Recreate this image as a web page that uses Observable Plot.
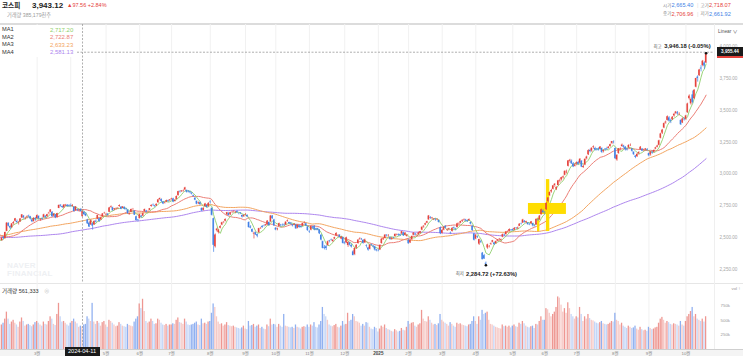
<!DOCTYPE html>
<html><head><meta charset="utf-8">
<script src="https://cdn.jsdelivr.net/npm/d3@7"></script>
<script src="https://cdn.jsdelivr.net/npm/@observablehq/plot@0.6"></script>
<style>
html,body{margin:0;padding:0;background:#fff}
#root{position:relative;width:743px;height:356px;overflow:hidden;font-family:"Liberation Sans","Noto Sans CJK KR",Arial,sans-serif;color:#333}
.abs{position:absolute;white-space:nowrap;line-height:1}
svg{position:absolute;left:0}
</style></head><body><div id="root"></div>
<script>
// ---------- header texts ----------
const titleName = "코스피", titlePrice = "3,943.12", titleChange = "▲97.56 +2.84%", titleVolume = "거래량 385,179천주";
const ohlcLabels = [["시가","2,665.40","dn"],["고가","2,718.07","up"],["종가","2,706.96","up"],["저가","2,661.92","dn"]];
const maNames = ["MA1","MA2","MA3","MA4"];
const maValues = ["2,717.20","2,722.87","2,633.23","2,581.13"];
const maPeriods = [5,20,60,120];
const maColors = ["#8fcf6c","#ec7e76","#f3a560","#ad85ee"];
const volumeTitle = "거래량 561,333";
const hiLabel = "3,946.18 (-0.05%)", loLabel = "2,284.72 (+72.63%)";
const crossDate = "2024-04-11", crossPrice = 3954.5, crossPriceLabel = "3,955.44", lastPrice = 3943.12;
const priceTicks = [2250,2500,2750,3000,3250,3500,3750,4000];
const volumeTicks = [250,500,750];
const holidays = ["2024-02-09","2024-02-12","2024-03-01","2024-04-10","2024-05-01","2024-05-06","2024-05-15","2024-06-06","2024-08-15","2024-09-16","2024-09-17","2024-09-18","2024-10-01","2024-10-03","2024-10-09","2024-12-25","2024-12-31","2025-01-01","2025-01-27","2025-01-28","2025-01-29","2025-01-30","2025-03-03","2025-05-01","2025-05-05","2025-05-06","2025-06-03","2025-06-06","2025-08-15","2025-10-03","2025-10-06","2025-10-07","2025-10-08","2025-10-09"];
// yellow highlight (index ranges, price ranges)
const highlightX1 = [324, 313.3, 318.7], highlightX2 = [326, 335.9, 320.1];
const highlightY1 = [2549, 2683, 2549], highlightY2 = [2956, 2769, 2654];

// ---------- closes before the visible range (for moving averages) ----------
const pre2023_08 = [2605,2602,2580,2573,2605,2601,2591,2570,2525,2519,2504,2508,2515,2505,2537,2519,2543,2552,2561,2556];
const pre2023_09 = [2563,2584,2582,2563,2548,2547,2537,2536,2534,2536,2572,2601,2574,2559,2559,2508,2495,2462,2465];
const pre2023_10 = [2405,2403,2408,2450,2479,2480,2456,2455,2460,2415,2375,2357,2383,2363,2299,2302,2310,2310,2277];
const pre2023_11 = [2301,2344,2368,2502,2443,2421,2427,2409,2403,2433,2486,2488,2469,2491,2510,2515,2496,2511,2521,2520,2521,2535];
const pre2023_12 = [2505,2515,2494,2492,2517,2525,2535,2510,2544,2563,2566,2568,2600,2614,2599,2602,2603,2613,2655];
const pre2024_01 = [2669,2607,2587,2578,2567,2561,2541,2567,2540,2525,2497,2435,2440,2472,2464,2478,2469,2470,2478,2500];

// ---------- visible days: "open high low close volume(k)" ----------
const d2024_01 = ["2478 2505 2472 2498 420","2503 2512 2485 2497 450"];
const d2024_02 = ["2495 2545 2490 2542 520","2550 2620 2548 2615 640","2612 2618 2585 2591 520","2588 2595 2565 2576 430","2580 2612 2575 2609 470","2612 2628 2600 2620 500","2630 2652 2625 2649 450","2628 2640 2612 2620 420","2615 2628 2600 2617 380","2625 2650 2622 2648 470","2655 2682 2650 2680 540","2670 2675 2645 2657 480","2650 2660 2640 2653 400","2660 2672 2648 2664 420","2670 2678 2655 2667 430","2665 2668 2640 2647 410","2640 2645 2618 2625 390","2628 2658 2622 2653 420","2650 2660 2630 2642 460"];
const d2024_03 = ["2650 2680 2645 2674 480","2668 2672 2640 2649 450","2640 2650 2630 2641 420","2650 2660 2638 2647 400","2660 2685 2655 2680 470","2670 2672 2650 2660 430","2665 2685 2660 2681 420","2690 2700 2680 2693 480","2700 2720 2695 2718 560","2700 2705 2660 2666 520","2670 2690 2665 2685 430","2680 2682 2650 2656 410","2660 2692 2655 2690 600","2730 2757 2728 2754 790","2755 2760 2740 2748 560","2745 2748 2730 2737 470","2735 2760 2730 2757 480","2750 2762 2745 2755 450","2755 2760 2740 2745 420","2752 2760 2740 2747 400"];
const d2024_04 = ["2750 2765 2740 2747 450","2748 2760 2740 2753 480","2740 2745 2700 2706 520","2712 2745 2710 2742 470","2720 2725 2705 2714 440","2710 2722 2700 2717 380","2722 2730 2700 2705 400","2665 2718 2662 2707 385","2700 2705 2675 2681 420","2685 2695 2665 2670 430","2640 2645 2605 2609 560","2615 2625 2580 2584 520","2600 2640 2598 2634 480","2610 2615 2560 2591 790","2600 2632 2598 2629 470","2630 2640 2615 2623 430","2645 2678 2642 2675 480","2650 2655 2622 2628 450","2640 2660 2635 2656 400","2665 2690 2660 2687 460","2690 2700 2685 2692 480"];
const d2024_05 = ["2680 2692 2670 2683 420","2685 2690 2670 2676 380","2700 2738 2698 2734 500","2740 2750 2730 2745 480","2735 2740 2708 2712 450","2720 2730 2712 2727 420","2725 2735 2715 2727 390","2730 2738 2722 2730 400","2745 2758 2740 2753 460","2740 2745 2720 2724 430","2730 2745 2728 2742 400","2738 2742 2718 2723 390","2725 2730 2712 2721 380","2715 2720 2685 2688 430","2680 2695 2680 2687 410","2700 2725 2698 2722 400","2722 2730 2715 2722 390","2710 2712 2675 2677 470","2665 2670 2630 2635 520","2640 2645 2625 2636 560"];
const d2024_06 = ["2650 2685 2648 2682 780","2670 2675 2655 2662 700","2670 2695 2665 2689 860","2705 2725 2700 2722 650","2710 2715 2695 2701 480","2705 2712 2698 2705 450","2715 2730 2710 2728 470","2745 2758 2740 2754 520","2760 2765 2745 2758 480","2750 2755 2738 2744 430","2750 2765 2745 2763 440","2775 2800 2770 2797 520","2800 2812 2790 2808 500","2800 2805 2775 2784 450","2780 2785 2760 2765 420","2770 2780 2765 2774 410","2780 2795 2775 2792 430","2790 2795 2778 2784 400","2790 2800 2785 2797 420"];
const d2024_07 = ["2800 2810 2795 2804 420","2805 2810 2775 2780 440","2785 2800 2780 2794 430","2800 2828 2798 2824 500","2830 2865 2828 2862 540","2860 2870 2850 2857 460","2862 2870 2855 2867 450","2865 2875 2858 2867 430","2875 2896 2870 2891 520","2870 2875 2850 2857 470","2865 2870 2852 2860 420","2860 2865 2845 2853 410","2850 2855 2835 2843 420","2830 2835 2818 2824 430","2810 2815 2790 2795 450","2785 2790 2758 2763 470","2770 2780 2760 2774 420","2775 2780 2755 2759 410","2730 2735 2705 2710 520","2715 2735 2710 2731 440","2745 2770 2740 2765 450","2755 2760 2732 2738 430","2745 2775 2740 2770 470"];
const d2024_08 = ["2780 2790 2765 2777 480","2730 2735 2670 2676 620","2650 2655 2386 2441 780","2430 2530 2420 2522 720","2555 2575 2545 2568 560","2540 2565 2530 2556 470","2575 2595 2570 2588 430","2600 2622 2595 2618 440","2620 2628 2610 2621 400","2630 2648 2625 2644 420","2680 2700 2675 2697 460","2690 2700 2670 2675 410","2680 2700 2675 2697 400","2700 2708 2690 2701 390","2705 2712 2695 2707 400","2700 2706 2690 2701 380","2705 2712 2692 2698 370","2690 2695 2680 2689 360","2690 2698 2682 2689 350","2675 2680 2655 2662 370","2665 2680 2660 2674 400"];
const d2024_09 = ["2680 2690 2672 2681 350","2675 2680 2660 2664 340","2620 2625 2575 2580 480","2585 2595 2570 2576 400","2565 2570 2540 2544 410","2530 2545 2491 2535 430","2540 2545 2518 2523 380","2525 2530 2500 2513 400","2540 2575 2535 2572 420","2575 2582 2565 2575 360","2590 2595 2575 2580 380","2595 2600 2585 2593 350","2595 2605 2590 2602 340","2600 2635 2598 2631 420","2620 2625 2590 2596 390","2625 2675 2620 2671 520","2670 2675 2645 2649 420","2640 2645 2590 2593 430"];
const d2024_10 = ["2575 2580 2555 2561 420","2565 2575 2555 2569 380","2590 2615 2588 2611 430","2600 2605 2585 2594 400","2600 2608 2590 2599 380","2600 2610 2590 2596 600","2600 2625 2598 2623 400","2628 2640 2622 2633 390","2620 2622 2605 2610 380","2615 2620 2600 2609 370","2600 2605 2585 2593 380","2600 2612 2595 2604 360","2600 2605 2565 2570 420","2575 2602 2570 2599 380","2595 2600 2575 2581 370","2590 2595 2575 2583 350","2590 2615 2588 2612 380","2615 2625 2608 2617 390","2610 2615 2588 2594 380","2585 2590 2550 2556 420"];
const d2024_11 = ["2545 2555 2535 2542 380","2560 2590 2555 2588 420","2585 2590 2570 2576 400","2590 2595 2555 2563 460","2570 2575 2555 2564 380","2570 2575 2555 2561 370","2560 2565 2525 2531 420","2520 2525 2475 2482 480","2470 2475 2412 2417 720","2425 2440 2405 2418 600","2430 2440 2400 2416 560","2440 2475 2435 2469 500","2475 2480 2460 2471 420","2485 2490 2475 2482 400","2470 2485 2465 2481 390","2490 2505 2485 2501 410","2515 2540 2510 2534 430","2520 2525 2510 2520 380","2520 2525 2500 2504 370","2490 2510 2485 2504 400","2500 2505 2450 2456 480"];
const d2024_12 = ["2460 2470 2445 2455 420","2460 2505 2455 2500 430","2440 2470 2425 2464 620","2460 2465 2435 2442 480","2440 2450 2420 2428 500","2390 2400 2360 2360 600","2370 2420 2360 2417 560","2420 2445 2410 2442 480","2455 2485 2450 2482 470","2490 2500 2480 2494 450","2490 2495 2478 2488 400","2480 2485 2450 2456 430","2460 2490 2455 2484 400","2440 2445 2420 2435 460","2420 2425 2395 2404 450","2410 2445 2405 2442 380","2445 2450 2435 2440 350","2435 2440 2420 2429 340","2430 2435 2395 2404 380","2405 2410 2390 2399 360"];
const d2025_01 = ["2400 2410 2390 2399 300","2405 2445 2400 2441 350","2455 2495 2450 2489 400","2485 2500 2480 2492 380","2495 2525 2490 2521 420","2520 2525 2505 2515 360","2515 2525 2505 2516 340","2500 2505 2480 2489 330","2490 2500 2480 2498 310","2500 2505 2490 2498 300","2510 2530 2505 2527 340","2520 2530 2515 2523 320","2525 2530 2512 2520 300","2525 2530 2510 2519 310","2530 2550 2525 2548 360","2540 2545 2510 2515 330","2520 2540 2515 2537 320","2510 2525 2505 2517 380"];
const d2025_02 = ["2480 2490 2450 2453 480","2460 2485 2455 2481 430","2485 2515 2480 2510 450","2520 2540 2515 2537 460","2530 2535 2515 2522 400","2520 2528 2510 2521 380","2525 2545 2520 2539 420","2535 2550 2530 2548 440","2560 2585 2555 2583 670","2585 2595 2575 2591 520","2600 2615 2595 2610 480","2615 2630 2610 2626 470","2640 2675 2638 2671 560","2660 2665 2645 2654 500","2650 2660 2645 2655 450","2640 2650 2635 2645 420","2645 2650 2630 2641 430","2640 2650 2635 2642 410","2635 2640 2615 2621 440","2580 2585 2525 2532 600"];
const d2025_03 = ["2535 2565 2530 2558 500","2560 2585 2555 2580 470","2590 2595 2570 2576 450","2560 2570 2550 2563 430","2565 2575 2555 2570 400","2540 2545 2525 2537 460","2550 2580 2545 2574 430","2580 2585 2565 2575 400","2570 2575 2555 2566 380","2580 2615 2578 2610 450","2610 2618 2600 2612 430","2615 2630 2610 2628 440","2630 2640 2620 2637 420","2640 2648 2630 2643 410","2640 2645 2625 2632 400","2635 2640 2620 2629 390","2635 2648 2630 2643 420","2620 2625 2600 2607 430","2590 2595 2550 2557 480","2530 2535 2475 2481 560"];
const d2025_04 = ["2490 2525 2485 2521 480","2510 2515 2495 2505 430","2450 2490 2440 2486 560","2470 2480 2455 2465 500","2380 2385 2328 2328 670","2360 2370 2330 2334 600","2300 2310 2284.72 2293 620","2420 2450 2410 2445 640","2430 2440 2420 2432 500","2450 2460 2440 2455 430","2465 2480 2460 2477 420","2460 2465 2440 2447 400","2455 2475 2450 2470 380","2475 2485 2470 2483 370","2485 2495 2480 2488 360","2480 2490 2475 2486 350","2505 2530 2500 2525 420","2525 2530 2510 2522 390","2525 2550 2520 2546 400","2545 2555 2540 2548 380","2550 2570 2545 2565 400","2560 2565 2550 2556 370"];
const d2025_05 = ["2565 2570 2550 2559 400","2560 2580 2555 2574 420","2575 2580 2565 2573 390","2570 2585 2565 2577 380","2590 2610 2588 2607 450","2610 2615 2600 2608 430","2615 2645 2612 2640 480","2630 2635 2615 2621 440","2620 2630 2610 2626 400","2615 2620 2598 2603 380","2605 2612 2595 2603 370","2610 2628 2605 2625 390","2610 2615 2585 2593 400","2595 2600 2585 2592 360","2600 2648 2598 2645 430","2640 2650 2630 2637 420","2640 2675 2638 2670 480","2680 2725 2678 2720 560","2710 2720 2690 2697 500"];
const d2025_06 = ["2700 2705 2680 2698 500","2720 2775 2715 2770 700","2785 2815 2775 2812 680","2830 2860 2825 2855 620","2860 2880 2850 2871 560","2880 2910 2875 2907 600","2910 2925 2895 2920 640","2880 2900 2870 2894 720","2910 2950 2905 2946 900","2945 2960 2930 2950 880","2955 2975 2945 2972 760","2970 2985 2960 2977 640","2990 3025 2985 3021 700","3010 3030 3000 3014 620","3060 3105 3055 3103 800","3100 3115 3085 3108 700","3100 3110 3075 3079 600","3080 3090 3050 3055 560","3060 3080 3055 3071 520"];
const d2025_07 = ["3080 3095 3065 3089 560","3090 3100 3070 3075 540","3085 3120 3080 3116 720","3100 3105 3050 3054 600","3050 3070 3045 3059 480","3070 3120 3065 3115 560","3120 3140 3110 3133 520","3150 3190 3145 3183 600","3185 3195 3165 3175 530","3180 3205 3170 3202 500","3210 3220 3195 3215 490","3200 3210 3180 3187 470","3195 3200 3180 3192 450","3195 3205 3180 3188 440","3195 3215 3190 3211 460","3200 3205 3160 3169 480","3175 3190 3165 3184 440","3195 3200 3180 3190 430","3200 3210 3185 3196 420","3200 3215 3195 3210 430","3215 3235 3210 3230 450","3240 3255 3230 3254 480","3250 3260 3235 3245 470"];
const d2025_08 = ["3200 3205 3115 3119 620","3110 3150 3100 3147 500","3160 3200 3155 3198 480","3195 3205 3185 3198 420","3215 3235 3210 3227 450","3220 3225 3200 3210 400","3210 3215 3180 3189 380","3195 3200 3180 3189 360","3205 3230 3200 3224 400","3225 3235 3215 3225 380","3195 3200 3170 3178 360","3170 3175 3145 3151 370","3140 3145 3120 3130 400","3135 3160 3130 3154 350","3160 3175 3150 3168 330","3190 3215 3185 3210 380","3195 3200 3175 3179 340","3185 3195 3175 3187 320","3190 3200 3180 3196 330","3190 3200 3180 3186 310"];
const d2025_09 = ["3160 3165 3135 3142 380","3150 3175 3140 3172 360","3170 3180 3155 3164 340","3170 3190 3165 3184 350","3195 3210 3190 3205 370","3210 3225 3205 3219 380","3225 3265 3220 3260 450","3280 3320 3275 3314 520","3320 3350 3310 3344 550","3360 3400 3355 3395 500","3400 3415 3390 3407 450","3420 3455 3415 3449 480","3440 3450 3405 3415 460","3420 3430 3395 3413 430","3425 3450 3420 3445 420","3455 3475 3445 3468 440","3475 3490 3465 3486 430","3480 3490 3460 3472 420","3470 3480 3455 3471 400","3420 3425 3380 3386 480","3400 3440 3395 3431 420","3430 3440 3415 3425 400"];
const d2025_10 = ["3430 3460 3420 3455 480","3480 3555 3475 3549 560","3590 3620 3580 3610 600","3550 3595 3540 3584 650","3620 3650 3550 3561 720","3590 3660 3585 3657 560","3680 3750 3675 3748 600","3760 3770 3720 3748 520","3770 3820 3765 3815 500","3830 3850 3800 3823 480","3850 3890 3840 3884 520","3870 3880 3820 3846 470","3870 3946.18 3865 3943.12 561"];

const months = [["2024-01",d2024_01],["2024-02",d2024_02],["2024-03",d2024_03],["2024-04",d2024_04],["2024-05",d2024_05],["2024-06",d2024_06],["2024-07",d2024_07],["2024-08",d2024_08],["2024-09",d2024_09],["2024-10",d2024_10],["2024-11",d2024_11],["2024-12",d2024_12],["2025-01",d2025_01],["2025-02",d2025_02],["2025-03",d2025_03],["2025-04",d2025_04],["2025-05",d2025_05],["2025-06",d2025_06],["2025-07",d2025_07],["2025-08",d2025_08],["2025-09",d2025_09],["2025-10",d2025_10]];
const preCloses = [].concat(pre2023_08, pre2023_09, pre2023_10, pre2023_11, pre2023_12, pre2024_01);

// ---------- build rows ----------
const holidaySet = new Set(holidays);
function tradingDays(ym){
  const [Y,M] = ym.split("-").map(Number), out = [];
  for (let d = 1; d <= 31; d++) {
    const dt = new Date(Date.UTC(Y, M-1, d));
    if (dt.getUTCMonth() !== M-1) break;
    const wd = dt.getUTCDay(), s = ym + "-" + String(d).padStart(2,"0");
    if (wd > 0 && wd < 6 && !holidaySet.has(s)) out.push(s);
  }
  return out;
}
const rows = [], monthStarts = [];
months.forEach(([ym, arr], mi) => {
  const td = tradingDays(ym);
  const sel = mi === 0 ? td.slice(Math.max(0, td.length - arr.length)) : td.slice(0, arr.length);
  arr.forEach((s, k) => {
    const [o,h,l,c,v] = s.split(" ").map(Number);
    const r = {i: rows.length, date: sel[k] || ym, ym, open:o, high:h, low:l, close:c, vol:v};
    rows.push(r);
    if (k === 0 && mi > 1) {
      const m = +ym.slice(5);
      monthStarts.push({i: r.i, ym, label: m === 1 ? ym.slice(0,4) : m + "월", year: m === 1});
    }
  });
});
rows.forEach((r, k) => { r.volUp = k === 0 ? true : r.vol >= rows[k-1].vol; r.up = r.close >= r.open; });
const series = preCloses.map((c, k) => ({i: k - preCloses.length, close: c})).concat(rows.map(r => ({i: r.i, close: r.close})));
const crossRow = rows.find(r => r.date === crossDate) || rows[48];
const hiRow = rows.reduce((a, b) => b.high > a.high ? b : a);
const loRow = rows.reduce((a, b) => b.low < a.low ? b : a);
const highlights = highlightX1.map((x1, k) => ({x1, x2: highlightX2[k], y1: highlightY1[k], y2: highlightY2[k]}));
// the month label under the crosshair date box is covered by that box
const axisLabels = monthStarts.filter(d => d.ym !== crossRow.ym);

const UP = "#e5413b", DN = "#3f7fe6", VUP = "#e4574f", VDN = "#4c80e6";
const FONT = '"Liberation Sans","Noto Sans CJK KR",Arial,sans-serif';
const W = 743, MR = 29, xDomain = [-0.8, 424];

// ---------- price pane ----------
const pricePlot = Plot.plot({
  width: W, height: 259, marginLeft: 0, marginRight: MR, marginTop: 0, marginBottom: 0,
  style: {background: "transparent", fontSize: "4.6px", color: "#a8a8a8", fontFamily: FONT},
  x: {type: "linear", domain: xDomain, axis: null},
  y: {type: "linear", domain: [2250, 4000], range: [245.2, 21.9], axis: null},
  color: {type: "identity"},
  marks: [
    Plot.ruleX(monthStarts, {x: "i", stroke: "#f1f1f1", strokeWidth: 1}),
    Plot.axisY({anchor: "right", ticks: priceTicks, tickSize: 0, tickPadding: 5, tickFormat: d3.format(",.2f")}),
    ...[3,2,1,0].map(k => Plot.lineY(series, Plot.windowY({k: maPeriods[k], anchor: "end"}, {x: "i", y: "close", stroke: maColors[k], strokeWidth: k === 0 ? 0.9 : 1, clip: true}))),
    Plot.rect(highlights, {x1: "x1", x2: "x2", y1: "y1", y2: "y2", fill: "#ffdd00"}),
    Plot.ruleX(rows, {x: "i", y1: "low", y2: "high", stroke: d => d.up ? UP : DN, strokeWidth: 0.7}),
    Plot.rect(rows, {x1: d => d.i - 0.42, x2: d => d.i + 0.42, y1: "open", y2: "close", fill: d => d.up ? UP : DN}),
    Plot.ruleX([crossRow.i], {stroke: "#9a9a9a", strokeDasharray: "2,1.5", strokeWidth: 0.8}),
    Plot.ruleY([crossPrice], {stroke: "#9a9a9a", strokeDasharray: "2,1.5", strokeWidth: 0.8}),
    Plot.dot([hiRow], {x: "i", y: "high", r: 1.3, fill: "#111", stroke: null}),
    Plot.dot([loRow], {x: "i", y: "low", r: 1.3, fill: "#111", stroke: null}),
    Plot.text([hiRow], {x: "i", y: "high", text: () => hiLabel, textAnchor: "end", dx: 4.5, dy: -7, fontSize: 5.8, fontWeight: "bold", fill: "#222"}),
    Plot.text([hiRow], {x: "i", y: "high", text: () => "최고", textAnchor: "end", dx: -44.5, dy: -7, fontSize: 4.4, fill: "#666"}),
    Plot.text([loRow], {x: "i", y: "low", text: () => loLabel, textAnchor: "start", dx: -20, dy: 8.5, fontSize: 5.8, fontWeight: "bold", fill: "#222"}),
    Plot.text([loRow], {x: "i", y: "low", text: () => "최저", textAnchor: "end", dx: -22, dy: 8.5, fontSize: 4.4, fill: "#666"})
  ]
});

// ---------- volume pane ----------
const volPlot = Plot.plot({
  width: W, height: 73, marginLeft: 0, marginRight: MR, marginTop: 0, marginBottom: 7,
  style: {background: "transparent", fontSize: "4.4px", color: "#999", fontFamily: FONT},
  x: {type: "linear", domain: xDomain, axis: null},
  y: {type: "linear", domain: [0, 1000], range: [66, 7.6], axis: null},
  color: {type: "identity"},
  marks: [
    Plot.ruleX(monthStarts, {x: "i", stroke: "#f1f1f1", strokeWidth: 1}),
    Plot.rect(rows, {x1: d => d.i - 0.38, x2: d => d.i + 0.38, y1: 0, y2: "vol", fill: d => d.up ? VUP : VDN, fillOpacity: d => d.volUp ? 0.62 : 0.32}),
    Plot.axisY({anchor: "right", ticks: volumeTicks, tickSize: 0, tickPadding: 6, tickFormat: d => d + "k"}),
    Plot.text(axisLabels.filter(d => !d.year), {x: "i", frameAnchor: "bottom", lineAnchor: "top", dy: 2.2, text: "label", fill: "#888", fontSize: 4.4}),
    Plot.text(axisLabels.filter(d => d.year), {x: "i", frameAnchor: "bottom", lineAnchor: "top", dy: 2.2, text: "label", fill: "#444", fontWeight: "bold", fontSize: 4.6}),
    Plot.ruleX([crossRow.i], {stroke: "#9a9a9a", strokeDasharray: "2,1.5", strokeWidth: 0.8, y1: 0, y2: 1000})
  ]
});

// ---------- assemble ----------
const root = document.getElementById("root");
function box(css, txt, html){ const d = document.createElement("div"); d.className = "abs"; if (txt != null) d.textContent = txt; if (html) d.innerHTML = html; d.style.cssText = css; root.appendChild(d); return d; }

box("left:0;top:23px;width:743px;height:1.5px;background:#dcdcdc");
box("left:0;top:283px;width:743px;height:1px;background:#e6e6e6");
box("left:714px;top:24px;width:1px;height:325px;background:#efefef");
box("left:0;top:349px;width:743px;height:7px;background:#f4f4f4;border-top:1px solid #cfcfcf");
box("left:7px;top:262px;font-size:8px;font-weight:bold;color:#eef0f3;line-height:8px;letter-spacing:0.3px", null, "NAVER<br>FINANCIAL");

pricePlot.style.top = "24px"; root.appendChild(pricePlot);
volPlot.style.top = "283px"; root.appendChild(volPlot);

// header
box("left:2px;top:2.6px;font-size:6.6px;font-weight:bold;color:#222", titleName);
box("left:32px;top:2px;font-size:8px;font-weight:bold;color:#222", titlePrice);
box("left:67px;top:3.3px;font-size:5.5px;color:" + UP, titleChange);
box("left:7px;top:12.8px;font-size:5.2px;color:#9a9a9a", titleVolume);
ohlcLabels.forEach(([lab, val, dir], k) => {
  const top = k < 2 ? 3.4 : 11.6, left = k % 2 === 0 ? 663 : 700.5;
  box(`left:${left}px;top:${top + 0.4}px;font-size:4.5px;color:#8a8a8a`, lab);
  box(`left:${left + 8.5}px;top:${top}px;font-size:5.6px;color:${dir === "up" ? UP : DN}`, val);
  if (k % 2 === 0) box(`left:697px;top:${top}px;font-size:5.6px;color:#dcdcdc`, "|");
});

// MA legend
box("left:0;top:25px;width:77px;height:32px;background:#fff");
maNames.forEach((n, k) => {
  const top = 27.2 + k * 7.45;
  box(`left:2px;top:${top}px;font-size:5.7px;color:#333`, n);
  box(`left:2px;width:71.3px;text-align:right;top:${top - 0.2}px;font-size:6px;color:${maColors[k]}`, maValues[k]);
});

box("left:718px;top:29.5px;font-size:4.8px;color:#555", "Linear ∨");
box("left:2px;top:289px;font-size:5.5px;color:#333", volumeTitle);
box("left:44px;top:289px;font-size:5.5px;color:#c8c8c8", "⊗");

// price labels on right axis, placed with the plot's own scales
const ys = v => 24 + pricePlot.scale("y").apply(v);
const xs = i => pricePlot.scale("x").apply(i);
box(`left:717px;top:${ys(lastPrice) - 4.5}px;width:26px;height:9px;background:${UP}`);
box(`left:717px;top:${ys(crossPrice) - 5}px;width:26px;height:9.5px;background:#1a1a1a;color:#fff;font-size:4.6px;font-weight:bold;line-height:9.5px;text-align:center`, crossPriceLabel);
// crosshair date box
box(`left:${xs(crossRow.i) - 17.5}px;top:347px;width:35px;height:9px;background:#1a1a1a;color:#fff;font-size:5.6px;line-height:9px;text-align:center`, crossDate);
</script></body></html>
